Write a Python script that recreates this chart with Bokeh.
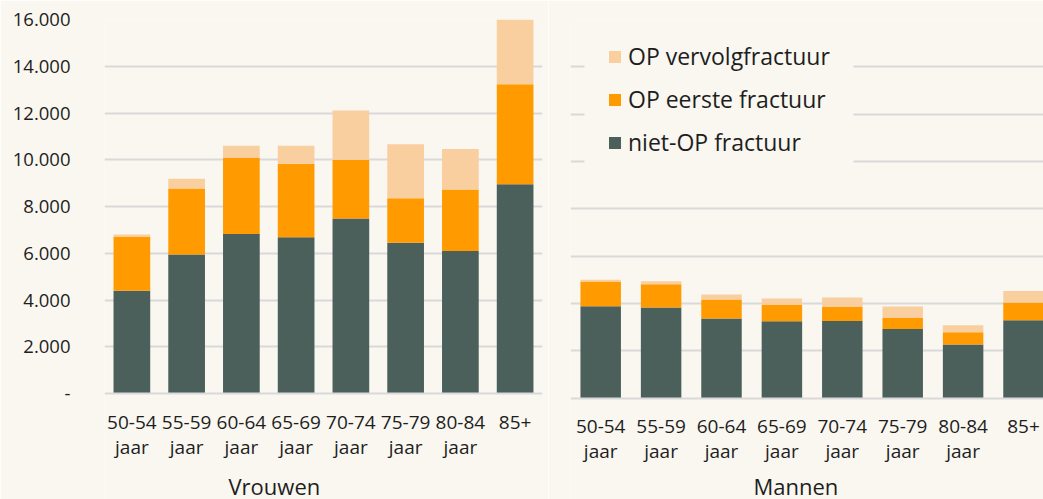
from bokeh.plotting import figure
from bokeh.models import (ColumnDataSource, FixedTicker, Range1d, Legend, LegendItem, Label,
                          BoxAnnotation)
from bokeh.layouts import row
from bokeh.embed import file_html
from bokeh.resources import INLINE

# ---- data ----
categories = ["50-54\njaar", "55-59\njaar", "60-64\njaar", "65-69\njaar",
              "70-74\njaar", "75-79\njaar", "80-84\njaar", "85+"]
series = ["niet-OP fractuur", "OP eerste fractuur", "OP vervolgfractuur"]

vrouwen_niet_op = [4400, 5950, 6820, 6680, 7490, 6450, 6100, 8950]
vrouwen_op_eerste = [2290, 2820, 3250, 3150, 2500, 1900, 2630, 4280]
vrouwen_op_vervolg = [110, 420, 530, 770, 2120, 2310, 1730, 2770]

mannen_niet_op = [3880, 3830, 3370, 3250, 3260, 2920, 2270, 3290]
mannen_op_eerste = [1050, 980, 800, 690, 590, 470, 510, 750]
mannen_op_vervolg = [70, 125, 210, 270, 400, 480, 300, 490]

y_ticks = [0, 2000, 4000, 6000, 8000, 10000, 12000, 14000, 16000]
y_tick_labels = ["-", "2.000", "4.000", "6.000", "8.000", "10.000", "12.000", "14.000", "16.000"]

colors = ["#4b5f5b", "#ff9a00", "#f9cfa0"]
BG = "#f9f7f0"
GRID = "#d9d9d9"
TXT = "#1e1e1e"
FONT = "Open Sans"

xpos = [i + 0.5 for i in range(len(categories))]
x_overrides = {x: c for x, c in zip(xpos, categories)}
y_overrides = {t: l for t, l in zip(y_ticks, y_tick_labels)}


def make_panel(niet, eerste, vervolg, width, x_end, y_start, borders, show_y,
               title, title_x, title_y):
    src = ColumnDataSource(dict(x=xpos, niet=niet, eerste=eerste, vervolg=vervolg))
    p = figure(width=width, height=499, output_backend="svg", toolbar_location=None,
               x_range=Range1d(0, x_end), y_range=Range1d(y_start, 16000),
               background_fill_color=BG, border_fill_color=BG,
               min_border_left=borders[0], min_border_right=borders[1],
               min_border_top=borders[2], min_border_bottom=0)
    p.outline_line_color = None
    rs = p.vbar_stack(["niet", "eerste", "vervolg"], x="x", width=0.67, source=src,
                      color=colors, line_color=None)

    # x axis, pinned at value 0 inside the frame
    xa = p.xaxis[0]
    xa.fixed_location = 0
    xa.ticker = FixedTicker(ticks=xpos)
    xa.major_label_overrides = x_overrides
    xa.major_tick_line_color = None
    xa.minor_tick_line_color = None
    xa.axis_line_color = GRID
    xa.axis_line_width = 2
    xa.major_label_text_font = FONT
    xa.major_label_text_font_size = "19px"
    xa.major_label_text_color = TXT
    xa.major_label_text_line_height = 0.97
    xa.major_label_standoff = 9
    p.xgrid.visible = False

    # y axis
    ya = p.yaxis[0]
    ya.ticker = FixedTicker(ticks=y_ticks)
    ya.major_label_overrides = y_overrides
    ya.major_tick_line_color = None
    ya.minor_tick_line_color = None
    ya.axis_line_color = None
    ya.major_label_text_font = FONT
    ya.major_label_text_font_size = "18.5px"
    ya.major_label_text_color = TXT
    ya.major_label_standoff = 28
    ya.visible = show_y
    p.ygrid.ticker = FixedTicker(ticks=y_ticks[1:])
    p.ygrid.grid_line_color = GRID
    p.ygrid.grid_line_width = 2

    t = Label(text=title, x=title_x, y=title_y, x_units="screen", y_units="screen",
              text_font=FONT, text_font_size="22px", text_color=TXT,
              text_align="left", text_baseline="alphabetic")
    p.add_layout(t)
    return p, rs


p1, rs1 = make_panel(vrouwen_niet_op, vrouwen_op_eerste, vrouwen_op_vervolg,
                     548, 8, -106 * 16000 / 374, (104, 6, 19), True, "Vrouwen", 124, 14)
p2, rs2 = make_panel(mannen_niet_op, mannen_op_eerste, mannen_op_vervolg,
                     495, 473 / 60.4, -102 * 16000 / 381, (22, 0, 16), False, "Mannen", 183, 14)

# background panel behind the legend (covers the gridlines like the reference)
p2.add_layout(BoxAnnotation(left=14, right=283, bottom=309, top=474,
                            left_units="screen", right_units="screen",
                            bottom_units="screen", top_units="screen",
                            fill_color=BG, fill_alpha=1.0, line_color=None))

legend = Legend(items=[LegendItem(label=series[2], renderers=[rs2[2]]),
                       LegendItem(label=series[1], renderers=[rs2[1]]),
                       LegendItem(label=series[0], renderers=[rs2[0]])],
                location=(37, 341), padding=24, spacing=11,
                glyph_width=15, glyph_height=15, label_standoff=6,
                label_text_font=FONT, label_text_font_size="23px", label_text_color=TXT,
                background_fill_color=BG, background_fill_alpha=1.0,
                border_line_color=None)
p2.add_layout(legend, "center")

layout = row(p1, p2)
open("out.html", "w").write(file_html(layout, INLINE))
